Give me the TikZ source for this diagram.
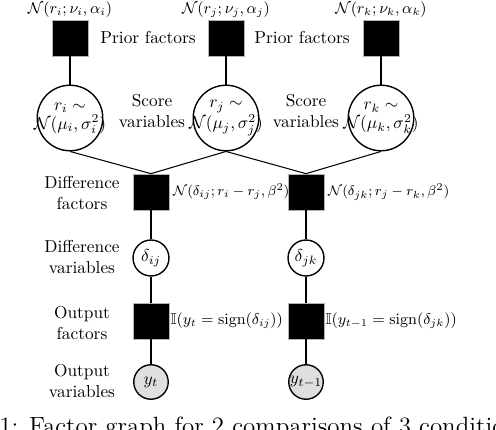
\documentclass[tikz,border=0pt]{standalone}
\usepackage{amsmath,amssymb}
\usepackage{tikz}
\usetikzlibrary{positioning}
\newcommand{\zw}[1]{\makebox[0pt]{#1}}

\begin{document}
\begin{tikzpicture}[
  x=0.0203cm, y=-0.0203cm,
  node distance=1pt,
  factor/.style={draw=gray!60, fill=black, minimum size=0.73cm, inner sep=0pt},
  score/.style={draw, circle, thick, minimum size=1.33cm, inner sep=0pt,
    align=center, font=\fontsize{9.6pt}{11pt}\selectfont},
  diff/.style={draw, circle, thick, minimum size=0.73cm, inner sep=0pt},
  obs/.style={draw, circle, thick, fill=gray!25, minimum size=0.7cm,
    inner sep=0pt},
  prior/.style={inner sep=0.5pt, font=\fontsize{8.7pt}{10pt}\selectfont},
  dfname/.style={inner sep=1pt, font=\fontsize{8pt}{10pt}\selectfont},
  ofname/.style={inner sep=0.5pt, font=\fontsize{9.2pt}{11pt}\selectfont},
  side/.style={align=center, inner sep=0pt},
  edge/.style={semithick}
]
\useasboundingbox (0,0) rectangle (496,430);

\node[factor] (pi) at (70,38) {};
\node[factor] (pj) at (226,38) {};
\node[factor] (pk) at (381,38) {};
\node[prior, above=0.5pt of pi] (npi) {$\mathcal{N}(r_i;\nu_i,\alpha_i)$};
\node[prior, above=0.5pt of pj] (npj) {$\mathcal{N}(r_j;\nu_j,\alpha_j)$};
\node[prior, above=0.5pt of pk] (npk) {$\mathcal{N}(r_k;\nu_k,\alpha_k)$};
\node[side] (prior1) at (148,37) {Prior factors};
\node[side] (prior2) at (302,37) {Prior factors};

\node[score] (ri) at (70,118) {\zw{$r_i\sim$}\\\zw{$\mathcal{N}(\mu_i,\sigma_i^2)$}};
\node[score] (rj) at (226,118) {\zw{$r_j\sim$}\\\zw{$\mathcal{N}(\mu_j,\sigma_j^2)$}};
\node[score] (rk) at (381,118) {\zw{$r_k\sim$}\\\zw{$\mathcal{N}(\mu_k,\sigma_k^2)$}};
\node[side] (score1) at (152,111) {Score\\variables};
\node[side] (score2) at (306,111) {Score\\variables};

\node[factor] (fij) at (151,192) {};
\node[factor] (fjk) at (306,192) {};
\node[dfname, right=1pt of fij] (nfij) {$\mathcal{N}(\delta_{ij};r_i-r_j,\beta^2)$};
\node[dfname, right=1pt of fjk] (nfjk) {$\mathcal{N}(\delta_{jk};r_j-r_k,\beta^2)$};
\node[side] (dfac) at (82,193) {Difference\\factors};

\node[diff] (dij) at (151,258) {$\delta_{ij}$};
\node[diff] (djk) at (306,258) {$\delta_{jk}$};
\node[side] (dvar) at (82,257) {Difference\\variables};

\node[factor] (oij) at (151,321) {};
\node[factor] (ojk) at (306,321) {};
\node[ofname, right=0pt of oij] (noij) {$\mathbb{I}(y_t=\operatorname{sign}(\delta_{ij}))$};
\node[ofname, right=0pt of ojk] (nojk) {$\mathbb{I}(y_{t-1}=\operatorname{sign}(\delta_{jk}))$};
\node[side] (ofac) at (82,323) {Output\\factors};

\node[obs] (yt) at (151,382) {\zw{$y_t$}};
\node[obs] (yt1) at (306,382) {\zw{$y_{t-1}$}};
\node[side] (ovar) at (82,381) {Output\\variables};

\node[anchor=base west, inner sep=0pt, font=\Large] (caption) at (-1,434)
  {1: Factor graph for 2 comparisons of 3 conditions};

\draw[edge] (pi) -- (ri);
\draw[edge] (pj) -- (rj);
\draw[edge] (pk) -- (rk);
\draw[edge] (ri.south) -- (fij.north);
\draw[edge] (rj.south) -- (fij.north);
\draw[edge] (rj.south) -- (fjk.north);
\draw[edge] (rk.south) -- (fjk.north);
\draw[edge] (fij) -- (dij);
\draw[edge] (fjk) -- (djk);
\draw[edge] (dij) -- (oij);
\draw[edge] (djk) -- (ojk);
\draw[edge] (oij) -- (yt);
\draw[edge] (ojk) -- (yt1);
\end{tikzpicture}
\end{document}
